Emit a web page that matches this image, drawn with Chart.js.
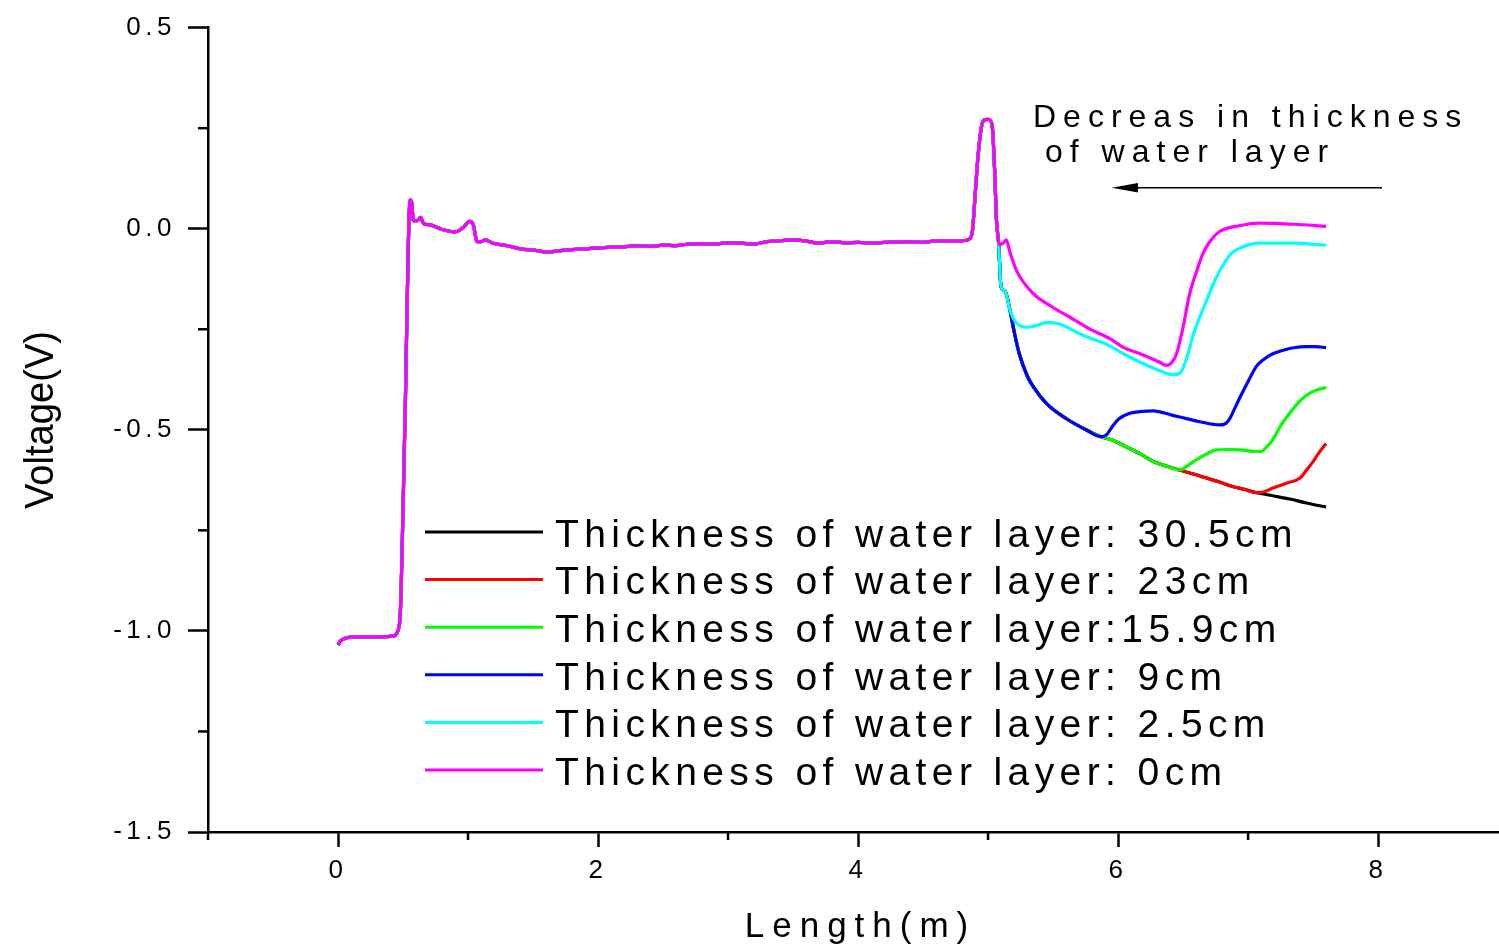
<!DOCTYPE html>
<html>
<head>
<meta charset="utf-8">
<script src="https://cdn.jsdelivr.net/npm/chart.js@4.4.1/dist/chart.umd.min.js"></script>
<style>
    html, body { margin: 0; padding: 0; background: #fff; overflow: hidden; }
    #wrap { width: 1499px; height: 948px; }
</style>
</head>
<body>
<div id="wrap"><canvas id="voltageChart" width="1499" height="948"></canvas></div>
<script>
// part of the trace that is the same for every thickness (0 .. 5.08 m)
const commonLength = [0.00, 0.02, 0.06, 0.12, 0.20, 0.30, 0.38, 0.42, 0.46, 0.48, 0.50, 0.52, 0.54, 0.555, 0.565, 0.58, 0.61, 0.635, 0.66, 0.70, 0.80, 0.90, 0.97, 1.01, 1.04, 1.07, 1.10, 1.13, 1.20, 1.30, 1.40, 1.50, 1.60, 1.70, 1.80, 1.90, 2.00, 2.10, 2.20, 2.30, 2.40, 2.50, 2.60, 2.70, 2.80, 2.90, 3.00, 3.10, 3.20, 3.30, 3.40, 3.50, 3.60, 3.70, 3.80, 3.90, 4.00, 4.10, 4.20, 4.30, 4.40, 4.50, 4.60, 4.70, 4.80, 4.86, 4.88, 4.90, 4.92, 4.95, 4.97, 5.00, 5.03, 5.05, 5.065, 5.08];
const commonVoltage = [-1.035, -1.025, -1.018, -1.015, -1.015, -1.015, -1.014, -1.013, -1.0, -0.95, -0.70, -0.40, -0.05, 0.072, 0.068, 0.02, 0.02, 0.028, 0.012, 0.010, -0.002, -0.008, 0.005, 0.018, 0.010, -0.032, -0.032, -0.028, -0.037, -0.042, -0.050, -0.053, -0.058, -0.055, -0.052, -0.050, -0.048, -0.046, -0.045, -0.042, -0.044, -0.041, -0.042, -0.038, -0.037, -0.038, -0.035, -0.036, -0.038, -0.032, -0.030, -0.028, -0.031, -0.036, -0.032, -0.035, -0.034, -0.036, -0.034, -0.033, -0.032, -0.034, -0.030, -0.031, -0.030, -0.025, -0.005, 0.08, 0.17, 0.255, 0.27, 0.272, 0.26, 0.15, 0.02, -0.03];

// tails after the second peak, one per thickness
const tailLength30_5 = [5.10, 5.13, 5.17, 5.20, 5.24, 5.30, 5.35, 5.45, 5.60, 5.76, 5.87, 5.95, 6.06, 6.17, 6.27, 6.37, 6.47, 6.58, 6.68, 6.78, 6.88, 6.97, 7.06, 7.19, 7.32, 7.45, 7.60];
const tailVoltage30_5 = [-0.145, -0.155, -0.205, -0.255, -0.311, -0.365, -0.394, -0.435, -0.472, -0.501, -0.517, -0.525, -0.542, -0.560, -0.579, -0.590, -0.600, -0.610, -0.620, -0.630, -0.641, -0.648, -0.656, -0.664, -0.672, -0.682, -0.692];

const tailLength23 = [5.10, 5.13, 5.17, 5.20, 5.24, 5.30, 5.35, 5.45, 5.60, 5.76, 5.87, 5.95, 6.06, 6.17, 6.27, 6.37, 6.47, 6.58, 6.68, 6.78, 6.88, 6.97, 7.06, 7.10, 7.19, 7.30, 7.40, 7.45, 7.50, 7.55, 7.60];
const tailVoltage23 = [-0.145, -0.155, -0.205, -0.255, -0.311, -0.365, -0.394, -0.435, -0.472, -0.501, -0.517, -0.525, -0.542, -0.560, -0.579, -0.590, -0.600, -0.610, -0.620, -0.630, -0.641, -0.648, -0.656, -0.656, -0.645, -0.632, -0.620, -0.600, -0.579, -0.555, -0.534];

const tailLength15_9 = [5.10, 5.13, 5.17, 5.20, 5.24, 5.30, 5.35, 5.45, 5.60, 5.76, 5.87, 5.95, 6.06, 6.17, 6.27, 6.37, 6.47, 6.50, 6.58, 6.67, 6.76, 6.85, 6.94, 7.05, 7.10, 7.15, 7.19, 7.25, 7.32, 7.40, 7.45, 7.52, 7.60];
const tailVoltage15_9 = [-0.145, -0.155, -0.205, -0.255, -0.311, -0.365, -0.394, -0.435, -0.472, -0.501, -0.517, -0.525, -0.542, -0.560, -0.579, -0.590, -0.600, -0.597, -0.579, -0.562, -0.550, -0.549, -0.550, -0.554, -0.554, -0.540, -0.525, -0.490, -0.459, -0.428, -0.414, -0.402, -0.395];

const tailLength9 = [5.10, 5.13, 5.17, 5.20, 5.24, 5.30, 5.35, 5.45, 5.60, 5.76, 5.87, 5.91, 5.96, 6.01, 6.08, 6.17, 6.27, 6.42, 6.55, 6.63, 6.78, 6.83, 6.86, 6.90, 6.94, 7.00, 7.06, 7.12, 7.19, 7.27, 7.35, 7.45, 7.52, 7.60];
const tailVoltage9 = [-0.145, -0.155, -0.205, -0.255, -0.311, -0.365, -0.394, -0.435, -0.472, -0.501, -0.517, -0.513, -0.490, -0.472, -0.460, -0.455, -0.453, -0.464, -0.474, -0.480, -0.488, -0.484, -0.472, -0.445, -0.418, -0.380, -0.344, -0.325, -0.311, -0.302, -0.296, -0.293, -0.293, -0.296];

const tailLength2_5 = [5.10, 5.13, 5.17, 5.22, 5.30, 5.37, 5.45, 5.55, 5.71, 5.81, 5.91, 6.04, 6.17, 6.32, 6.42, 6.47, 6.49, 6.53, 6.58, 6.68, 6.75, 6.81, 6.87, 6.94, 7.09, 7.35, 7.60];
const tailVoltage2_5 = [-0.145, -0.155, -0.204, -0.235, -0.245, -0.241, -0.233, -0.237, -0.262, -0.275, -0.287, -0.311, -0.332, -0.353, -0.363, -0.360, -0.353, -0.320, -0.262, -0.180, -0.125, -0.089, -0.062, -0.048, -0.036, -0.036, -0.041];

const tailLength0 = [5.09, 5.12, 5.14, 5.17, 5.22, 5.34, 5.50, 5.65, 5.78, 5.94, 6.04, 6.17, 6.32, 6.37, 6.42, 6.45, 6.50, 6.55, 6.60, 6.65, 6.71, 6.78, 6.94, 7.09, 7.35, 7.60];
const tailVoltage0 = [-0.040, -0.035, -0.028, -0.060, -0.105, -0.159, -0.196, -0.224, -0.249, -0.274, -0.295, -0.311, -0.332, -0.340, -0.330, -0.311, -0.245, -0.163, -0.110, -0.064, -0.030, -0.007, 0.008, 0.014, 0.011, 0.006];

const seriesLabels = [
    "Thickness of water layer: 30.5cm",
    "Thickness of water layer: 23cm",
    "Thickness of water layer:15.9cm",
    "Thickness of water layer: 9cm",
    "Thickness of water layer: 2.5cm",
    "Thickness of water layer: 0cm",
];
const seriesColors = ["#000000", "#ff0000", "#00ff00", "#0000ff", "#00ffff", "#ff00ff"];
const tailLengths = [tailLength30_5, tailLength23, tailLength15_9, tailLength9, tailLength2_5, tailLength0];
const tailVoltages = [tailVoltage30_5, tailVoltage23, tailVoltage15_9, tailVoltage9, tailVoltage2_5, tailVoltage0];

// axis ticks
const xMinorTicks = [-1, 1, 3, 5, 7];
const yMinorTicks = [-1.25, -0.75, -0.25, 0.25];

const FONT = '"Liberation Sans", Arial, sans-serif';

function buildPoints(i) {
    const xs = commonLength.concat(tailLengths[i]);
    const ys = commonVoltage.concat(tailVoltages[i]);
    return xs.map((x, k) => ({ x: x, y: ys[k] }));
}

const datasets = seriesLabels.map((label, i) => ({
    label: label,
    data: buildPoints(i),
    borderColor: seriesColors[i],
    backgroundColor: seriesColors[i],
    order: seriesLabels.length - i, // magenta ends up on top
}));

const decorations = {
    id: "decorations",
    beforeDraw(chart) {
        chart.ctx.letterSpacing = "4.5px"; // spaced tick labels
    },
    afterDraw(chart) {
        const ctx = chart.ctx;
        const xs = chart.scales.x;
        const ys = chart.scales.y;
        const area = chart.chartArea;

        ctx.save();
        ctx.strokeStyle = "#000";
        ctx.lineWidth = 2.5;
        // minor ticks
        xMinorTicks.forEach((v) => {
            const px = xs.getPixelForValue(v);
            ctx.beginPath();
            ctx.moveTo(px, area.bottom);
            ctx.lineTo(px, area.bottom + 8);
            ctx.stroke();
        });
        yMinorTicks.forEach((v) => {
            const py = ys.getPixelForValue(v);
            ctx.beginPath();
            ctx.moveTo(area.left - 10, py);
            ctx.lineTo(area.left, py);
            ctx.stroke();
        });

        ctx.fillStyle = "#000";
        ctx.textBaseline = "alphabetic";

        // x title
        ctx.font = "35px " + FONT;
        ctx.letterSpacing = "8px";
        ctx.textAlign = "center";
        ctx.fillText("Length(m)", 860.5, 937);

        // y title
        ctx.save();
        ctx.translate(53.3, 420);
        ctx.rotate(-Math.PI / 2);
        ctx.scale(0.93, 1);
        ctx.font = "41px " + FONT;
        ctx.letterSpacing = "0px";
        ctx.fillText("Voltage(V)", 0, 0);
        ctx.restore();

        // legend
        ctx.textAlign = "left";
        ctx.font = "39px " + FONT;
        ctx.letterSpacing = "5.4px";
        seriesLabels.forEach((label, i) => {
            const y = 532 + 47.6 * i;
            ctx.strokeStyle = seriesColors[i];
            ctx.lineWidth = 3;
            ctx.beginPath();
            ctx.moveTo(425, y);
            ctx.lineTo(543, y);
            ctx.stroke();
            ctx.fillText(label, 555, y + 14.7);
        });

        // annotation
        ctx.font = "32px " + FONT;
        ctx.letterSpacing = "7px";
        ctx.fillText("Decreas in thickness", 1033, 126.7);
        ctx.fillText("of water layer", 1045, 161.7);

        ctx.strokeStyle = "#000";
        ctx.lineWidth = 1.5;
        ctx.beginPath();
        ctx.moveTo(1382, 187.7);
        ctx.lineTo(1135, 187.7);
        ctx.stroke();
        ctx.beginPath();
        ctx.moveTo(1111.7, 187.7);
        ctx.lineTo(1138, 183);
        ctx.lineTo(1138, 192.4);
        ctx.closePath();
        ctx.fill();

        ctx.restore();
        ctx.letterSpacing = "4.5px";
    },
};

new Chart(document.getElementById("voltageChart"), {
    type: "line",
    data: { datasets: datasets },
    options: {
        responsive: false,
        animation: false,
        layout: { padding: { top: 25, right: 0, bottom: 0, left: 0 } },
        elements: {
            point: { radius: 0 },
            line: { borderWidth: 3.2, cubicInterpolationMode: "monotone" },
        },
        plugins: {
            legend: { display: false },
            tooltip: { enabled: false },
        },
        scales: {
            x: {
                type: "linear",
                min: -1,
                max: 8.93,
                afterFit: (scale) => { scale.height = 116; },
                ticks: {
                    stepSize: 1,
                    includeBounds: false,
                    autoSkip: false,
                    maxRotation: 0,
                    padding: 8,
                    color: "#000",
                    font: { family: FONT, size: 26 },
                    callback: (v) => (v >= 0 && v % 2 === 0 ? String(v) : ""),
                },
                grid: {
                    drawOnChartArea: false,
                    tickLength: 15,
                    tickWidth: 2.5,
                    tickColor: (c) => (c.tick && c.tick.value >= 0 && c.tick.value % 2 === 0 ? "#000" : "rgba(0,0,0,0)"),
                },
                border: { color: "#000", width: 2.5 },
            },
            y: {
                min: -1.5,
                max: 0.5,
                afterFit: (scale) => { scale.width = 208; },
                ticks: {
                    stepSize: 0.25,
                    includeBounds: false,
                    autoSkip: false,
                    padding: 12,
                    color: "#000",
                    font: { family: FONT, size: 26 },
                    callback: (v) => (Math.abs(v * 2 - Math.round(v * 2)) < 1e-6 ? v.toFixed(1) : ""),
                },
                grid: {
                    drawOnChartArea: false,
                    tickLength: 20,
                    tickWidth: 2.5,
                    tickColor: (c) => (c.tick && Math.abs(c.tick.value * 2 - Math.round(c.tick.value * 2)) < 1e-6 ? "#000" : "rgba(0,0,0,0)"),
                },
                border: { color: "#000", width: 2.5 },
            },
        },
    },
    plugins: [decorations],
});
</script>
</body>
</html>
